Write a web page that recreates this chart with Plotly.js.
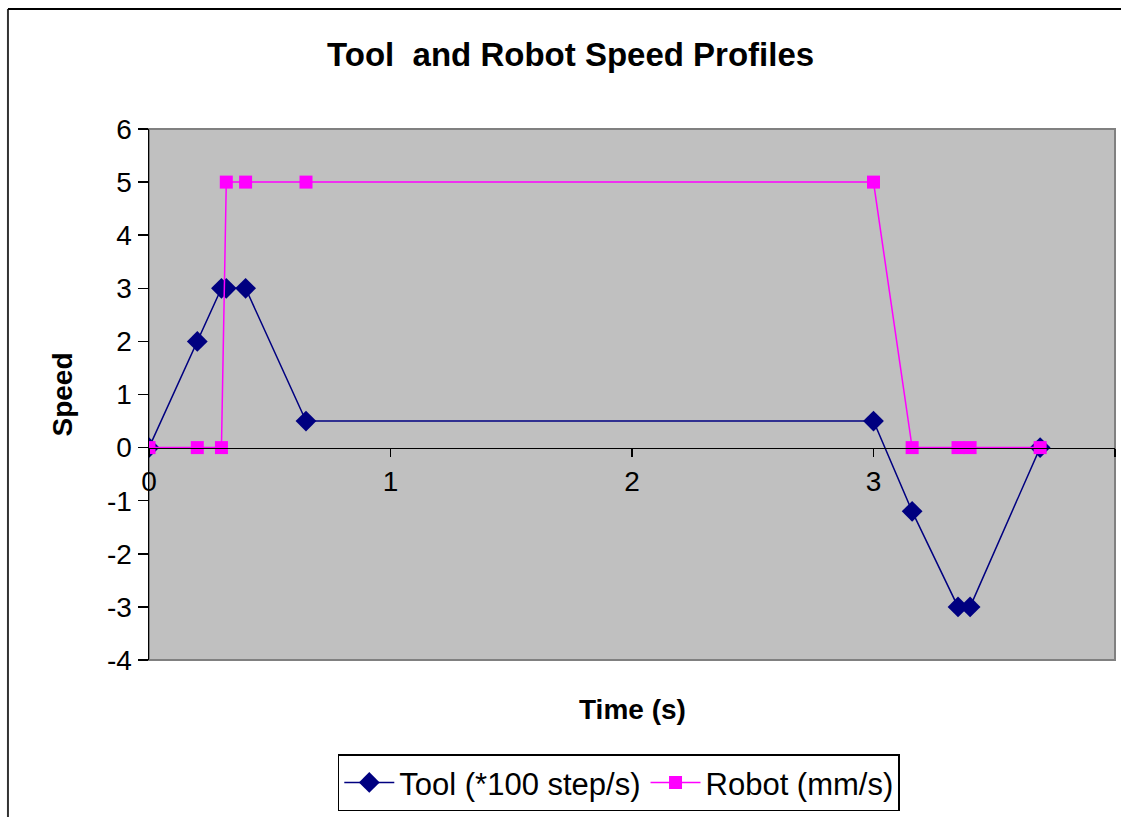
<!DOCTYPE html>
<html>
<head>
<meta charset="utf-8">
<script src="https://cdn.plot.ly/plotly-3.0.1.min.js"></script>
<style>
html,body{margin:0;padding:0;background:#fff;}
#chart{width:1121px;height:817px;}
</style>
</head>
<body>
<div id="chart"></div>
<script>
const timeTool = [0, 0.2, 0.3, 0.32, 0.4, 0.65, 3.0, 3.16, 3.35, 3.4, 3.69];
const toolSpeed = [0, 2, 3, 3, 3, 0.5, 0.5, -1.2, -3, -3, 0];
const timeRobot = [0, 0.2, 0.3, 0.32, 0.4, 0.65, 3.0, 3.16, 3.35, 3.4, 3.69];
const robotSpeed = [0, 0, 0, 5, 5, 5, 5, 0, 0, 0, 0];
const seriesNames = ["Tool (*100 step/s)", "Robot (mm/s)"];
const xTicks = [0, 1, 2, 3, 4];
const yTicks = [-4, -3, -2, -1, 0, 1, 2, 3, 4, 5, 6];

const FONT = "Liberation Sans, Arial, sans-serif";

const traces = [
  {
    x: timeTool, y: toolSpeed, name: seriesNames[0],
    type: "scatter", mode: "lines+markers",
    line: {color: "#000080", width: 1.5},
    marker: {symbol: "diamond", size: 16, color: "#000080"}
  },
  {
    x: timeRobot, y: robotSpeed, name: seriesNames[1],
    type: "scatter", mode: "lines+markers",
    line: {color: "#FF00FF", width: 1.5},
    marker: {symbol: "square", size: 13, color: "#FF00FF"}
  }
];

const layout = {
  width: 1121, height: 817,
  margin: {l: 149, r: 6, t: 129, b: 157, pad: 0},
  paper_bgcolor: "#ffffff",
  plot_bgcolor: "#C0C0C0",
  font: {family: FONT, color: "#000", size: 24},
  showlegend: true,
  title: {
    text: "Tool  and Robot Speed Profiles",
    font: {family: FONT, size: 33, color: "#000", weight: "bold"},
    x: 0.509, xref: "container", xanchor: "center",
    y: 0.933, yref: "container", yanchor: "middle"
  },
  xaxis: {
    range: [0, 4], tickvals: xTicks, ticktext: xTicks.map(String),
    showgrid: false, zeroline: false,
    showline: true, linecolor: "#000", linewidth: 1.5,
    ticks: "outside", ticklen: 8, tickcolor: "#000", tickwidth: 1.5,
    anchor: "free", position: 0.4,
    tickfont: {family: FONT, size: 28, color: "#000"},
    fixedrange: true
  },
  yaxis: {
    range: [-4, 6], tickvals: yTicks, ticktext: yTicks.map(String),
    showgrid: false, zeroline: false,
    showline: true, linecolor: "#000", linewidth: 1.5,
    ticks: "outside", ticklen: 10, tickcolor: "#000", tickwidth: 1.5,
    tickfont: {family: FONT, size: 28, color: "#000"},
    title: {text: "Speed", font: {family: FONT, size: 28, color: "#000", weight: "bold"}, standoff: 26},
    fixedrange: true
  },
  legend: {
    orientation: "h",
    x: 0.552, xref: "container", xanchor: "center",
    y: 0.007, yref: "container", yanchor: "bottom",
    bgcolor: "#fff", bordercolor: "#000", borderwidth: 1.5,
    font: {family: FONT, size: 31, color: "#000"},
    itemwidth: 50, tracegroupgap: 0
  },
  annotations: [
    {
      text: "<b>Time (s)</b>", xref: "paper", yref: "paper",
      x: 0.5, y: -0.06, xanchor: "center", yanchor: "top",
      showarrow: false,
      font: {family: FONT, size: 28, color: "#000"}
    }
  ],
  shapes: [
    {type: "rect", xref: "paper", yref: "paper", x0: 0, x1: 1, y0: 0, y1: 1,
     line: {color: "#808080", width: 2}, layer: "below"},
    {type: "line", xref: "paper", yref: "paper", x0: -0.146, x1: -0.146, y0: -0.3, y1: 1.226,
     line: {color: "#333", width: 2}},
    {type: "line", xref: "paper", yref: "paper", x0: -0.146, x1: 1.01, y0: 1.226, y1: 1.226,
     line: {color: "#000", width: 2}}
  ]
};

Plotly.newPlot("chart", traces, layout, {displayModeBar: false, staticPlot: true});
</script>
</body>
</html>
